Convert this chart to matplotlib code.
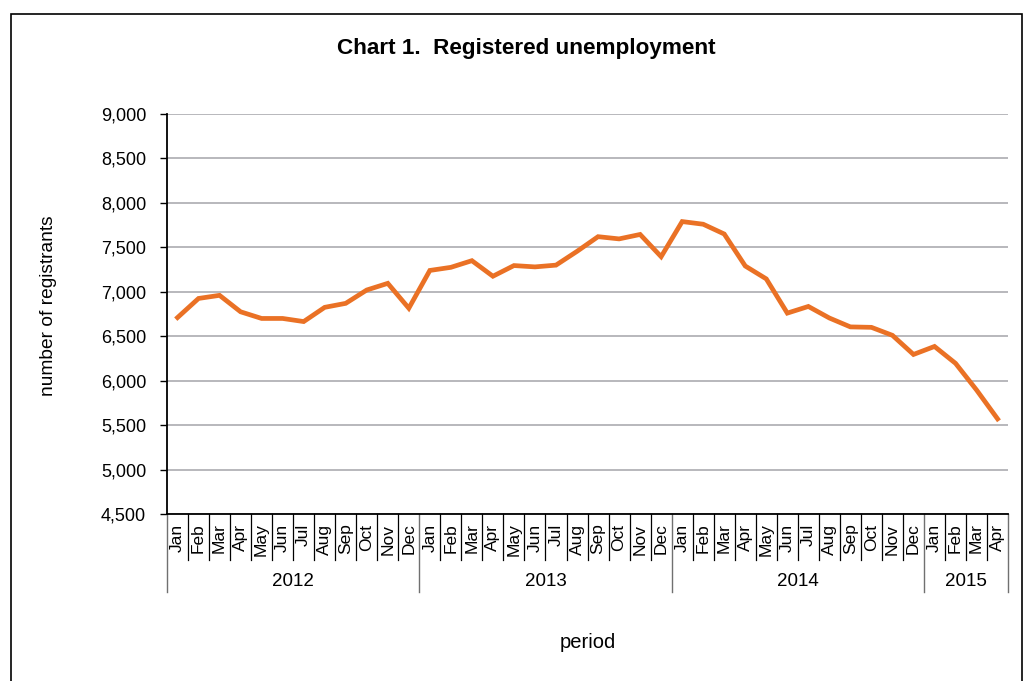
import matplotlib
matplotlib.use("Agg")
import matplotlib.pyplot as plt
from matplotlib.patches import Rectangle
import numpy as np

plt.rcParams['font.family'] = ['Liberation Sans', 'DejaVu Sans']

# data
months = ['Jan', 'Feb', 'Mar', 'Apr', 'May', 'Jun', 'Jul', 'Aug', 'Sep', 'Oct', 'Nov', 'Dec']
years = ['2012', '2013', '2014', '2015']
months_per_year = [12, 12, 12, 4]
registrants = [6710, 6925, 6960, 6775, 6700, 6700, 6665, 6825, 6870, 7020, 7095, 6815,
               7240, 7275, 7350, 7175, 7295, 7280, 7300, 7455, 7620, 7595, 7645, 7395,
               7790, 7760, 7650, 7290, 7145, 6760, 6835, 6705, 6605, 6600, 6510, 6295,
               6385, 6195, 5895, 5570]

labels = []
for n in months_per_year:
    labels += months[:n]
x = np.arange(len(registrants))

fig = plt.figure(figsize=(10.27, 6.81), dpi=100)
ax = fig.add_axes([0.1626, 0.2452, 0.819, 0.5874])

# outer frame (bottom runs off the picture)
fig.patches.append(Rectangle((11, -20), 1011, 687, transform=None, fill=False,
                             edgecolor='black', linewidth=1.2))

ax.plot(x, registrants, color='#EA7125', linewidth=3.4, solid_joinstyle='miter', zorder=3)

ax.set_ylim(4500, 9000)
ax.set_yticks(np.arange(4500, 9001, 500))
ax.yaxis.set_major_formatter(matplotlib.ticker.FuncFormatter(lambda v, p: f'{int(v):,}'))
ax.grid(axis='y', color='#B8B8BC', linewidth=1.4)
ax.set_axisbelow(True)
ax.tick_params(axis='y', labelsize=13, length=5, width=1, direction='out', pad=10)

ax.set_xlim(-0.5, len(x) - 0.5)
ax.set_xticks([])
for s in ['top', 'right']:
    ax.spines[s].set_visible(False)
ax.spines['left'].set_linewidth(1.3)
ax.spines['bottom'].set_linewidth(1.3)

trans = matplotlib.transforms.blended_transform_factory(ax.transData, ax.transAxes)
for i, lab in enumerate(labels):
    ax.text(i, -0.024, lab, transform=trans, rotation=90, ha='center', va='top', fontsize=12.5)

# separators
start = 0
year_edges = [0]
for n in months_per_year:
    start += n
    year_edges.append(start)
for i in range(len(x) + 1):
    if i in year_edges:
        ax.plot([i - 0.5, i - 0.5], [0, -0.195], transform=trans, color='#707070',
                linewidth=1, clip_on=False)
    else:
        ax.plot([i - 0.5, i - 0.5], [0, -0.115], transform=trans, color='black',
                linewidth=0.9, clip_on=False)
for k, y in enumerate(years):
    mid = (year_edges[k] + year_edges[k + 1]) / 2 - 0.5
    ax.text(mid, -0.168, y, transform=trans, ha='center', va='center', fontsize=13.5)

ax.text(0.5, -0.32, 'period', transform=ax.transAxes, ha='center', va='center', fontsize=14.5)
ax.set_ylabel('number of registrants', fontsize=13.8)
ax.yaxis.set_label_coords(-0.131, 0.52)

fig.text(0.512, 0.929, 'Chart 1.  Registered unemployment', ha='center', va='center',
         fontsize=16.2, fontweight='bold')

fig.savefig('out.png', dpi=100)
